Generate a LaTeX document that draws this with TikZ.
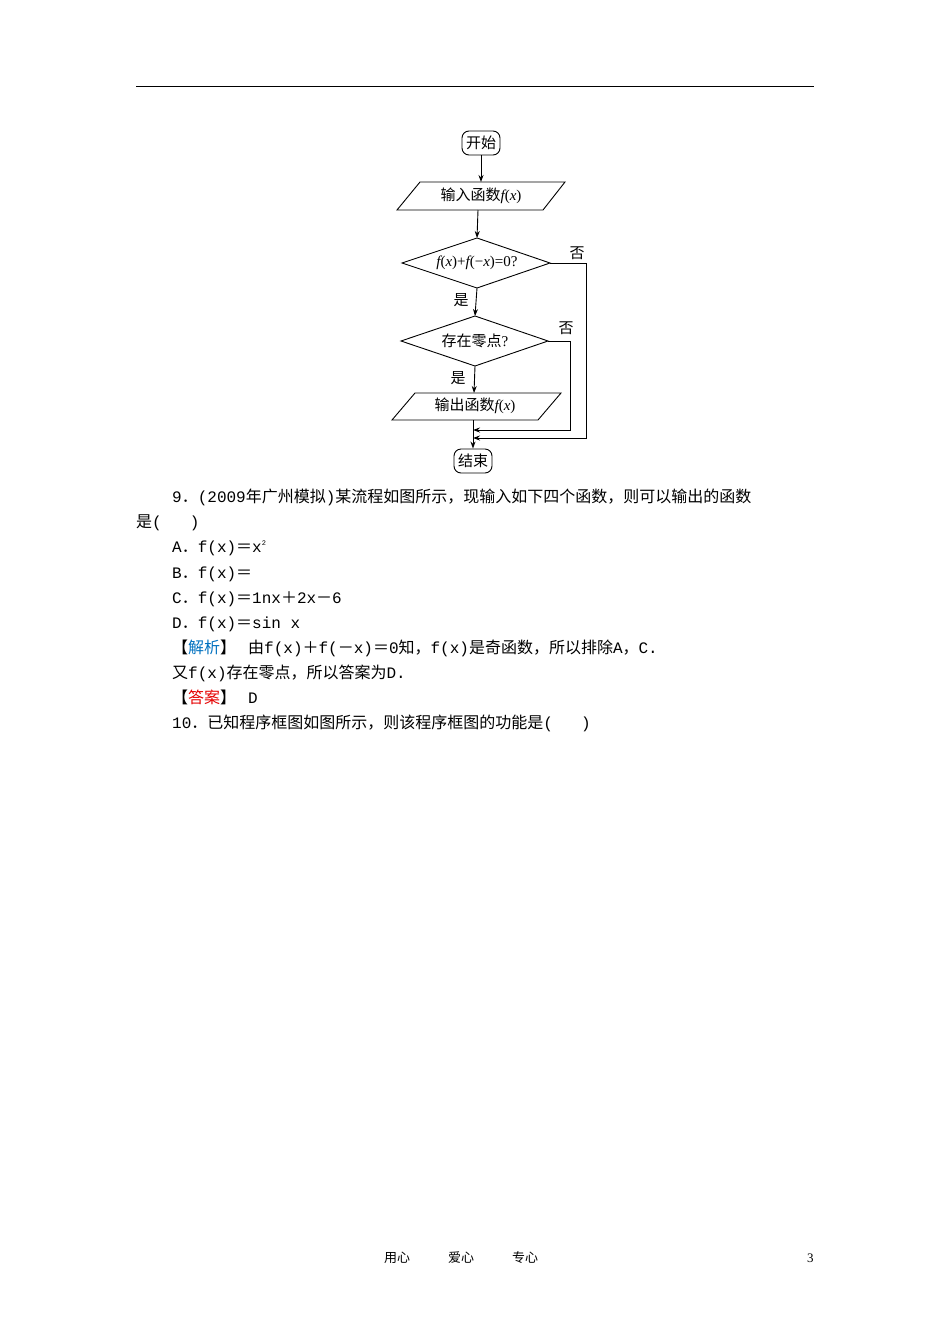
\documentclass[tikz,border=0pt]{standalone}
\usepackage{fontspec}
\setmainfont{Liberation Serif}
\newfontfamily\cjk{Noto Sans CJK SC}
\newfontfamily\mono{Liberation Mono}
\newfontfamily\lser{Liberation Serif}
\newcommand{\vi}[1]{{\lser\itshape #1}}
\newcommand{\vr}[1]{{\lser #1}}
\usetikzlibrary{shapes.geometric,arrows.meta}
\begin{document}
\begin{tikzpicture}[x=1pt,y=-1pt,
  arr/.style={line width=0.9pt,-{Stealth[length=7pt,width=5pt]}},
  term/.style={draw,line width=0.9pt,rounded corners=7pt,minimum width=38pt,minimum height=24pt,inner sep=1pt,font=\cjk\fontsize{15}{15}\selectfont},
  lbl/.style={font=\cjk\fontsize{15}{15}\selectfont,inner sep=0pt},
  txt/.style={anchor=base west,inner sep=0pt,font=\fontsize{16}{16}\selectfont}]
\useasboundingbox (0,0) rectangle (950,1344);
\draw[line width=0.8pt] (136,86) -- (814,86);
\node[term] (start) at (481,143) {开始};
\draw[line width=0.9pt] (420,182) -- (565,182) -- (543,210) -- (397,210) -- cycle;
\node[lbl] (in) at (481,196) {输入函数\vi{f}\vr{(}\vi{x}\vr{)}};
\coordinate (inT) at (481,182); \coordinate (inB) at (478,210);
\draw[line width=0.9pt] (477,238) -- (550,263) -- (477,288) -- (402,263) -- cycle;
\node[lbl] (d1) at (477,263) {\vi{f}\vr{(}\vi{x}\vr{)+}\vi{f}\vr{(−}\vi{x}\vr{)=0?}};
\coordinate (d1T) at (477,238); \coordinate (d1B) at (477,288); \coordinate (d1R) at (550,263);
\draw[line width=0.9pt] (475,316) -- (548,341) -- (475,366) -- (401,341) -- cycle;
\node[lbl] (d2) at (475,341) {存在零点\vr{?}};
\coordinate (d2T) at (475,316); \coordinate (d2B) at (475,366); \coordinate (d2R) at (548,341);
\draw[line width=0.9pt] (415,393) -- (561,393) -- (538,420) -- (392,420) -- cycle;
\node[lbl] (out) at (475,406) {输出函数\vi{f}\vr{(}\vi{x}\vr{)}};
\coordinate (outT) at (474,393); \coordinate (outB) at (473,420);
\node[term] (end) at (473,461) {结束};
\draw[arr] (start) -- (inT);
\draw[arr] (inB) -- (d1T);
\draw[arr] (d1B) -- (d2T);
\draw[arr] (d2B) -- (outT);
\draw[arr] (outB) -- (end);
\coordinate (m1) at (473,430); \coordinate (m2) at (473,438);
\draw[arr] (d2R) -- (570,341) -- (570,430) -- (m1);
\draw[arr] (d1R) -- (586,263) -- (586,438) -- (m2);
\node[lbl] (n1) at (577,253) {否};
\node[lbl] (n2) at (566,328) {否};
\node[lbl] (y1) at (461,300) {是};
\node[lbl] (y2) at (458,378) {是};
\node[txt] (t1) at (172,502) {\mono 9\cjk ．\mono (2009\cjk 年广州模拟\mono )\cjk 某流程如图所示，现输入如下四个函数，则可以输出的函数};
\node[txt] (t2) at (136,527) {\cjk 是\mono (\hspace{28pt})};
\node[txt] (t3) at (172,552) {\mono A\cjk ．\mono f(x)\cjk ＝\mono x\textsuperscript{\fontsize{7}{7}\selectfont 2}};
\node[txt] (t4) at (172,578) {\mono B\cjk ．\mono f(x)\cjk ＝};
\node[txt] (t5) at (172,603) {\mono C\cjk ．\mono f(x)\cjk ＝\mono 1nx\cjk ＋\mono 2x\cjk －\mono 6};
\node[txt] (t6) at (172,628) {\mono D\cjk ．\mono f(x)\cjk ＝\mono sin x};
\node[txt] (t7) at (172,653) {\cjk 【\textcolor[rgb]{0.0,0.44,0.75}{解析}】\hspace{12pt}由\mono f(x)\cjk ＋\mono f(\cjk －\mono x)\cjk ＝\mono 0\cjk 知，\mono f(x)\cjk 是奇函数，所以排除\mono A\cjk ，\mono C.};
\node[txt] (t8) at (172,678) {\cjk 又\mono f(x)\cjk 存在零点，所以答案为\mono D.};
\node[txt] (t9) at (172,703) {\cjk 【\textcolor[rgb]{0.9,0,0}{答案}】\hspace{12pt}\mono D};
\node[txt] (t10) at (172,728) {\mono 10\cjk ．已知程序框图如图所示，则该程序框图的功能是\mono (\hspace{28pt})};
\node[txt,font=\cjk\fontsize{13}{13}\selectfont] (f1) at (384,1262) {用心\hspace{38pt}爱心\hspace{38pt}专心};
\node[txt,font=\fontsize{13}{13}\selectfont] (f2) at (807,1262) {3};
\end{tikzpicture}
\end{document}
